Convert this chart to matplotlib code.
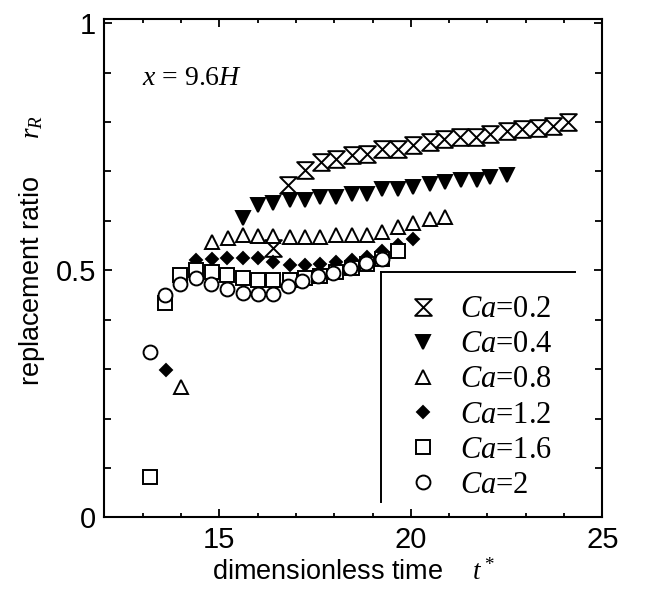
import matplotlib
matplotlib.use("Agg")
import matplotlib.pyplot as plt
from matplotlib.path import Path
from matplotlib.lines import Line2D
from matplotlib.ticker import MultipleLocator

plt.rcParams['font.family'] = ['Liberation Sans', 'DejaVu Sans']
plt.rcParams['mathtext.fontset'] = 'custom'
plt.rcParams['mathtext.rm'] = 'Liberation Serif'
plt.rcParams['mathtext.it'] = 'Liberation Serif:italic'

# Ca = 0.2
t_02 = [16.40, 16.80, 17.24, 17.65, 18.05, 18.46, 18.86, 19.25, 19.67, 20.06,
        20.50, 20.87, 21.28, 21.70, 22.07, 22.51, 22.90, 23.32, 23.71, 24.10]
r_02 = [0.546, 0.673, 0.703, 0.719, 0.725, 0.733, 0.735, 0.745, 0.745, 0.754,
        0.760, 0.766, 0.770, 0.770, 0.775, 0.781, 0.785, 0.787, 0.793, 0.800]
# Ca = 0.4
t_04 = [15.62, 16.01, 16.40, 16.85, 17.24, 17.64, 18.05, 18.46, 18.86, 19.25,
        19.67, 20.06, 20.50, 20.89, 21.31, 21.73, 22.07, 22.51]
r_04 = [0.605, 0.633, 0.637, 0.643, 0.643, 0.649, 0.649, 0.655, 0.655, 0.665,
        0.665, 0.669, 0.675, 0.679, 0.683, 0.683, 0.689, 0.693]
# Ca = 0.8
t_08 = [14.00, 14.81, 15.23, 15.62, 16.01, 16.40, 16.85, 17.24, 17.64, 18.05,
        18.46, 18.86, 19.25, 19.67, 20.06, 20.50, 20.89]
r_08 = [0.263, 0.558, 0.566, 0.572, 0.570, 0.570, 0.568, 0.568, 0.568, 0.572,
        0.572, 0.572, 0.578, 0.588, 0.595, 0.603, 0.607]
# Ca = 1.2
t_12 = [13.61, 14.39, 14.81, 15.20, 15.62, 16.01, 16.40, 16.85, 17.24, 17.64,
        18.05, 18.46, 18.86, 19.25, 19.67, 20.06]
r_12 = [0.299, 0.520, 0.523, 0.525, 0.525, 0.525, 0.517, 0.511, 0.511, 0.513,
        0.517, 0.521, 0.527, 0.540, 0.552, 0.563]
# Ca = 1.6
t_16 = [13.19, 13.58, 13.97, 14.39, 14.81, 15.20, 15.62, 16.01, 16.40, 16.85,
        17.24, 17.64, 18.05, 18.46, 18.86, 19.25, 19.67]
r_16 = [0.081, 0.434, 0.491, 0.501, 0.497, 0.491, 0.485, 0.481, 0.481, 0.481,
        0.485, 0.489, 0.497, 0.505, 0.513, 0.523, 0.539]
# Ca = 2
t_20 = [13.19, 13.58, 13.97, 14.39, 14.78, 15.20, 15.62, 16.01, 16.40, 16.79,
        17.16, 17.58, 17.97, 18.41, 18.83, 19.25]
r_20 = [0.334, 0.451, 0.472, 0.484, 0.472, 0.462, 0.454, 0.452, 0.452, 0.468,
        0.478, 0.488, 0.494, 0.504, 0.514, 0.522]

labels = ['0.2', '0.4', '0.8', '1.2', '1.6', '2']

# hourglass marker
hourglass = Path([(-1, 1), (1, 1), (-1, -1), (1, -1), (-1, 1)],
                 [Path.MOVETO, Path.LINETO, Path.LINETO, Path.LINETO, Path.CLOSEPOLY])

series = [
    (t_02, r_02, hourglass, 'white', 12),
    (t_04, r_04, 'v', 'black', 9.5),
    (t_08, r_08, '^', 'white', 10.5),
    (t_12, r_12, 'D', 'black', 6.5),
    (t_16, r_16, 's', 'white', 9.5),
    (t_20, r_20, 'o', 'white', 10),
]

fig = plt.figure(figsize=(6.49, 6.01), dpi=100)
ax = fig.add_axes([0.161, 0.139, 0.767, 0.829])

handles = []
for (t, r, m, fc, ms), lab in zip(series, labels):
    h, = ax.plot(t, r, linestyle='none', marker=m, markersize=ms,
                 markerfacecolor=fc, markeredgecolor='black', markeredgewidth=1.4,
                 label=r'$Ca$=' + lab)
    handles.append(h)

ax.set_xlim(12, 25)
ax.set_ylim(0, 1.008)
ax.xaxis.set_major_locator(MultipleLocator(5))
ax.xaxis.set_minor_locator(MultipleLocator(1))
ax.yaxis.set_minor_locator(MultipleLocator(0.1))
ax.set_yticks([0, 0.5, 1])
ax.set_yticklabels(['0', '0.5', '1'])

ax.tick_params(which='both', direction='in', top=True, right=True, width=1.3,
               labelsize=21, pad=6)
ax.tick_params(axis='x', which='major', length=6)
ax.tick_params(axis='x', which='minor', length=3)
ax.tick_params(axis='y', which='major', length=6)
ax.tick_params(axis='y', which='minor', length=5)
for s in ax.spines.values():
    s.set_linewidth(1.5)

ax.set_xlabel(r'dimensionless time    $t^*$', fontsize=19.5, labelpad=4)
ax.set_ylabel(r'replacement ratio     $r_R$', fontsize=19.5, labelpad=6)
ax.yaxis.label.set_y(0.535)

ax.text(0.075, 0.868, r'$x$ = 9.6$H$', transform=ax.transAxes, fontsize=20,
        family='Liberation Serif', va='baseline', ha='left')

leg = ax.legend(handles=handles, loc='upper left', bbox_to_anchor=(0.612, 0.446),
                frameon=False, borderpad=0, borderaxespad=0, handlelength=0.9,
                handletextpad=0.75, labelspacing=0.2,
                prop={'family': 'Liberation Serif', 'size': 22})

# legend frame: left and top lines only
ax.add_line(Line2D([0.555, 0.555], [0.031, 0.492], transform=ax.transAxes,
                   color='black', linewidth=1.4))
ax.add_line(Line2D([0.555, 0.945], [0.492, 0.492], transform=ax.transAxes,
                   color='black', linewidth=1.4))

fig.savefig('out.png', dpi=100)
